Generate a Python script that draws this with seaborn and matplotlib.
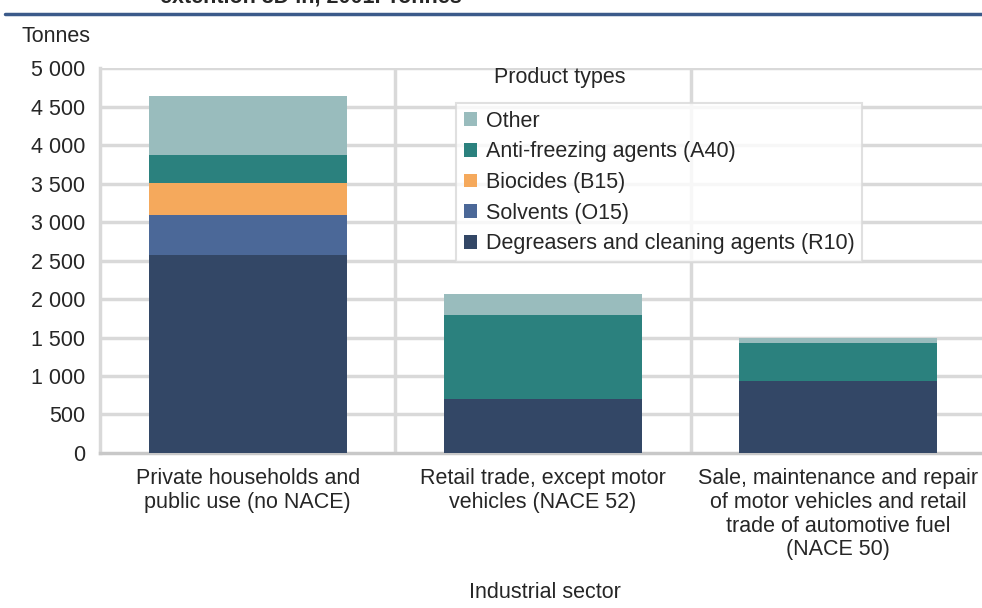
import numpy as np
import pandas as pd
import matplotlib
matplotlib.use("Agg")
import matplotlib.pyplot as plt
from matplotlib.ticker import FuncFormatter
from matplotlib.lines import Line2D
from matplotlib.patches import Patch
import seaborn as sns

# Data (tonnes)
sectors = [
    "Private households and\npublic use (no NACE)",
    "Retail trade, except motor\nvehicles (NACE 52)",
    "Sale, maintenance and repair\nof motor vehicles and retail\ntrade of automotive fuel\n(NACE 50)",
]
degreasers = [2575, 705, 940]
solvents = [515, 0, 0]
biocides = [415, 0, 0]
anti_freezing = [365, 1090, 490]
other = [765, 270, 65]

product_types = [
    "Degreasers and cleaning agents (R10)",
    "Solvents (O15)",
    "Biocides (B15)",
    "Anti-freezing agents (A40)",
    "Other",
]
colors = ["#334766", "#4b6898", "#f5a95c", "#2b817e", "#99bcbd"]

FS = 15.5

sns.set_style("white")
plt.rcParams["font.family"] = ["Liberation Sans", "DejaVu Sans"]

df = pd.DataFrame({
    "sector": sectors,
    product_types[0]: degreasers,
    product_types[1]: solvents,
    product_types[2]: biocides,
    product_types[3]: anti_freezing,
    product_types[4]: other,
})
cum = df[product_types].cumsum(axis=1)

fig = plt.figure(figsize=(9.82, 6.08), dpi=100)
ax = fig.add_axes([0.102, 0.255, 0.902, 0.633])

# stacked bars: draw cumulative totals from the top layer down
for name, col in reversed(list(zip(product_types, colors))):
    sns.barplot(x=df["sector"], y=cum[name], color=col, width=0.67,
                linewidth=0, saturation=1, ax=ax, zorder=3)

ax.set_ylim(0, 5000)
ax.set_xlim(-0.5, 2.5)
ax.set_yticks(np.arange(0, 5001, 500))
ax.yaxis.set_major_formatter(FuncFormatter(lambda v, p: f"{v:,.0f}".replace(",", " ")))
ax.tick_params(axis="y", labelsize=FS, length=0, pad=11)
ax.tick_params(axis="x", labelsize=FS, length=0, pad=11)
for t in ax.get_xticklabels():
    t.set_linespacing(1.17)
ax.set_xlabel("")
ax.set_ylabel("")

# grid lines
for v in np.arange(500, 5001, 500):
    ax.axhline(v, color="#d9d9d9", lw=2.5, zorder=1)
for v in [0.5, 1.5]:
    ax.axvline(v, color="#d9d9d9", lw=2.5, zorder=1)
for s in ["top", "right"]:
    ax.spines[s].set_visible(False)
ax.spines["left"].set_color("#d9d9d9")
ax.spines["left"].set_linewidth(2.5)
ax.spines["bottom"].set_color("#c8c8c8")
ax.spines["bottom"].set_linewidth(2.5)

# legend
handles = [Patch(facecolor=c, edgecolor="none") for c in colors]
leg = ax.legend(handles[::-1], product_types[::-1], loc="upper left",
                bbox_to_anchor=(356 / 885, 1 - 35 / 385), fontsize=FS, frameon=True,
                fancybox=False, handlelength=0.6, handleheight=0.6,
                handletextpad=0.4, labelspacing=0.45, borderpad=0.35,
                borderaxespad=0)
leg.get_frame().set_edgecolor("#d9d9d9")
leg.get_frame().set_linewidth(1.5)
leg.set_zorder(5)
fig.text(560 / 982, 1 - 78 / 608, "Product types", fontsize=FS, ha="center", va="center")

fig.text(22 / 982, 1 - 36 / 608, "Tonnes", fontsize=FS, ha="left", va="center")
fig.text(545 / 982, 1 - 593 / 608, "Industrial sector", fontsize=FS, ha="center", va="center")

# clipped title and rule at the top
fig.text(160 / 982, 1 - 3 / 608, "extention 3D in, 2001. Tonnes", fontsize=FS,
         fontweight="bold", ha="left", va="baseline")
fig.add_artist(Line2D([5 / 982, 1], [1 - 14 / 608, 1 - 14 / 608],
                      color="#3b5a8a", lw=2.5, transform=fig.transFigure))

fig.savefig("out.png", dpi=100)
